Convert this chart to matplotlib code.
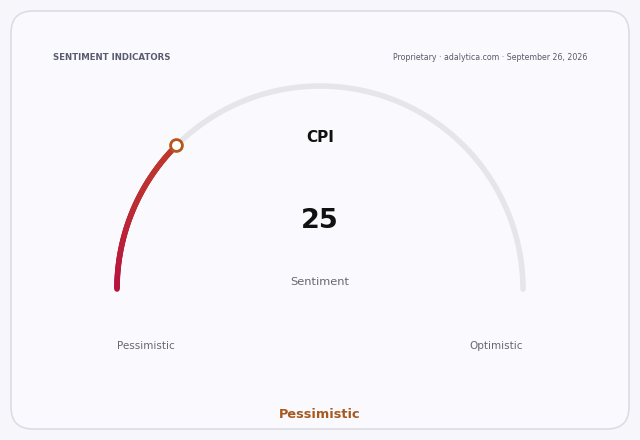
import numpy as np
import matplotlib.pyplot as plt
from matplotlib.patches import FancyBboxPatch
from matplotlib.collections import LineCollection
from matplotlib.colors import LinearSegmentedColormap

# data
title = "SENTIMENT INDICATORS"
source = "Proprietary · adalytica.com · September 26, 2026"
indicator = "CPI"
value = 25
vmin, vmax = 0, 100
subtitle = "Sentiment"
end_labels = ["Pessimistic", "Optimistic"]
status = "Pessimistic"

fig = plt.figure(figsize=(6.4, 4.4), dpi=100)
fig.patch.set_facecolor("#f7f7fb")
ax = fig.add_axes([0, 0, 1, 1])
ax.set_xlim(0, 640)
ax.set_ylim(440, 0)
ax.axis("off")

card = FancyBboxPatch((11, 11), 618, 418, boxstyle="round,pad=0,rounding_size=22",
                      facecolor="#fafafe", edgecolor="#dcdce6", linewidth=1.2)
ax.add_patch(card)

cx, cy, r = 320, 289, 203

# background track
t = np.linspace(np.pi, 0, 300)
ax.plot(cx + r * np.cos(t), cy - r * np.sin(t), color="#e6e6ea", lw=4,
        solid_capstyle="round", zorder=2)

# value arc with gradient
frac = (value - vmin) / (vmax - vmin)
ang_end = np.pi - frac * np.pi
t = np.linspace(np.pi, ang_end, 120)
xs = cx + r * np.cos(t)
ys = cy - r * np.sin(t)
pts = np.column_stack([xs, ys]).reshape(-1, 1, 2)
segs = np.concatenate([pts[:-1], pts[1:]], axis=1)
cmap = LinearSegmentedColormap.from_list("g", ["#b8123e", "#bb2a35", "#c0392b"])
lc = LineCollection(segs, colors=cmap(np.linspace(0, 1, len(segs))), linewidths=4,
                    capstyle="round", zorder=3)
ax.add_collection(lc)
ax.plot([xs[-1]], [ys[-1]], "o", ms=8.5, mfc="white", mec="#b5561a", mew=2, zorder=4)

ax.text(53, 58, title, fontsize=6.2, fontweight="bold", color="#5a5a70", va="center")
ax.text(587, 58, source, fontsize=5.7, color="#5a5a6a", va="center", ha="right")
ax.text(cx, 137, indicator, fontsize=11, fontweight="bold", color="#111111",
        ha="center", va="center")
ax.text(cx, 221, str(value), fontsize=19.5, fontweight="bold", color="#111111",
        ha="center", va="center")
ax.text(cx, 282, subtitle, fontsize=8.2, color="#666670", ha="center", va="center")
ax.text(cx - r, 346, end_labels[0], fontsize=7.5, color="#666670", ha="left", va="center")
ax.text(cx + r, 346, end_labels[1], fontsize=7.5, color="#666670", ha="right", va="center")
ax.text(cx, 414, status, fontsize=9.3, fontweight="bold", color="#a8581c",
        ha="center", va="center")

fig.savefig("out.png", dpi=100, facecolor=fig.get_facecolor())
